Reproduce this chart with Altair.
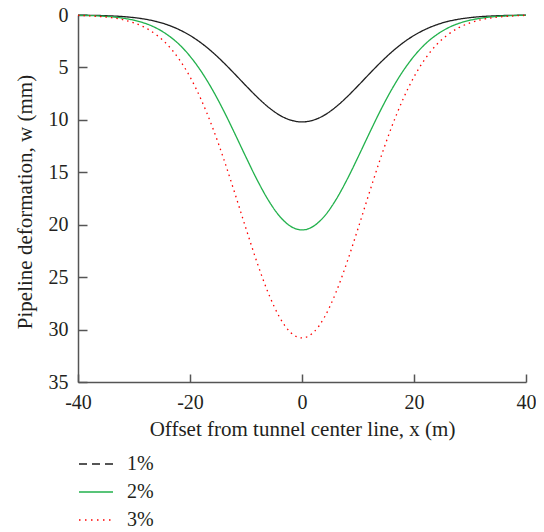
import altair as alt
import pandas as pd

xs = list(range(-40, 41, 2))
series_names = ["1%", "2%", "3%"]
w_1 = [0.01, 0.03, 0.05, 0.09, 0.15, 0.25, 0.40, 0.62, 0.94, 1.38, 1.95, 2.67, 3.54, 4.54, 5.63, 6.75, 7.83, 8.79, 9.55, 10.03,
       10.2,
       10.03, 9.55, 8.79, 7.83, 6.75, 5.63, 4.54, 3.54, 2.67, 1.95, 1.38, 0.94, 0.62, 0.40, 0.25, 0.15, 0.09, 0.05, 0.03, 0.01]
w_2 = [0.03, 0.05, 0.10, 0.17, 0.30, 0.50, 0.80, 1.25, 1.90, 2.77, 3.93, 5.38, 7.12, 9.12, 11.31, 13.56, 15.74, 17.67, 19.19, 20.16,
       20.5,
       20.16, 19.19, 17.67, 15.74, 13.56, 11.31, 9.12, 7.12, 5.38, 3.93, 2.77, 1.90, 1.25, 0.80, 0.50, 0.30, 0.17, 0.10, 0.05, 0.03]
w_3 = [0.04, 0.08, 0.15, 0.26, 0.45, 0.75, 1.21, 1.89, 2.85, 4.17, 5.90, 8.08, 10.69, 13.70, 16.99, 20.37, 23.64, 26.54, 28.83, 30.30,
       30.8,
       30.30, 28.83, 26.54, 23.64, 20.37, 16.99, 13.70, 10.69, 8.08, 5.90, 4.17, 2.85, 1.89, 1.21, 0.75, 0.45, 0.26, 0.15, 0.08, 0.04]
x_ticks = [-40, -20, 0, 20, 40]
y_ticks = [0, 5, 10, 15, 20, 25, 30, 35]

rows = []
for name, vals in zip(series_names, [w_1, w_2, w_3]):
    for x, w in zip(xs, vals):
        rows.append({"x": x, "w": w, "series": name})
df = pd.DataFrame(rows)

FONT = "Liberation Serif"
TXT = "#231f20"
AX = "#555555"
W, H = 448, 367
COLORS = ["#1e1e1e", "#22b14c", "#ff0000"]

xscale = alt.Scale(domain=[-40, 40], nice=False)
yscale = alt.Scale(domain=[0, 35], reverse=True, nice=False)

lines = alt.Chart(df).mark_line(strokeWidth=1.3, interpolate="monotone").encode(
    x=alt.X("x:Q", scale=xscale,
            axis=alt.Axis(values=x_ticks, ticks=False, tickSize=0, grid=False, labelPadding=10,
                          labelFlush=False, labelExpr="'' + datum.value",
                          title="Offset from tunnel center line, x (m)",
                          titleBaseline="alphabetic", titleY=53, titleX=W / 2)),
    y=alt.Y("w:Q", scale=yscale,
            axis=alt.Axis(values=y_ticks, ticks=False, tickSize=0, grid=False, labelPadding=10,
                          labelFlush=False,
                          title="Pipeline deformation, w (mm)",
                          titleBaseline="alphabetic", titleX=-47, titleY=H / 2 + 3, titleAngle=-90)),
    color=alt.Color("series:N", scale=alt.Scale(domain=series_names, range=COLORS), legend=None),
    strokeDash=alt.StrokeDash("series:N",
                              scale=alt.Scale(domain=series_names, range=[[1, 0], [1, 0], [1.5, 4]]),
                              legend=None),
)

legend_def = alt.Legend(orient="none", legendX=0, legendY=431, title=None,
                        direction="vertical", symbolType="stroke", symbolSize=1156,
                        symbolStrokeWidth=1.3, labelFont=FONT, labelFontSize=20,
                        labelColor=TXT, labelOffset=13, rowPadding=-7.5)

legend_layer = alt.Chart(df).transform_filter("false").mark_line(strokeWidth=1.3).encode(
    x=alt.X("x:Q", scale=xscale, axis=None),
    y=alt.Y("w:Q", scale=yscale, axis=None),
    color=alt.Color("series:N", scale=alt.Scale(domain=series_names, range=COLORS), legend=legend_def),
    strokeDash=alt.StrokeDash("series:N",
                              scale=alt.Scale(domain=series_names, range=[[8, 5], [1, 0], [1.5, 4.5]]),
                              legend=legend_def),
)

ticks_layer = alt.Chart(df).mark_line(strokeOpacity=0).encode(
    x=alt.X("x:Q", scale=xscale,
            axis=alt.Axis(orient="top", offset=-H, values=x_ticks, labels=False, domain=False,
                          ticks=True, tickSize=8, tickWidth=1.5, tickColor=AX, grid=False, title=None)),
    y=alt.Y("w:Q", scale=yscale,
            axis=alt.Axis(orient="right", offset=-W, values=y_ticks, labels=False, domain=False,
                          ticks=True, tickSize=9, tickWidth=1.5, tickColor=AX, grid=False, title=None)),
)

chart = alt.layer(lines, legend_layer, ticks_layer).resolve_axis(
    x="independent", y="independent"
).resolve_scale(color="independent", strokeDash="independent").properties(
    width=W, height=H,
    autosize=alt.AutoSizeParams(type="none"),
    padding={"left": 70, "top": 7, "right": 10, "bottom": 150},
).configure_view(stroke=None).configure_axis(
    domainColor=AX, domainWidth=1.5, labelFont=FONT, labelFontSize=20, labelColor=TXT,
    titleFont=FONT, titleFontSize=21, titleColor=TXT, titleFontWeight="normal",
)

chart.save("out.html", embed_options={"renderer": "svg", "actions": False})
